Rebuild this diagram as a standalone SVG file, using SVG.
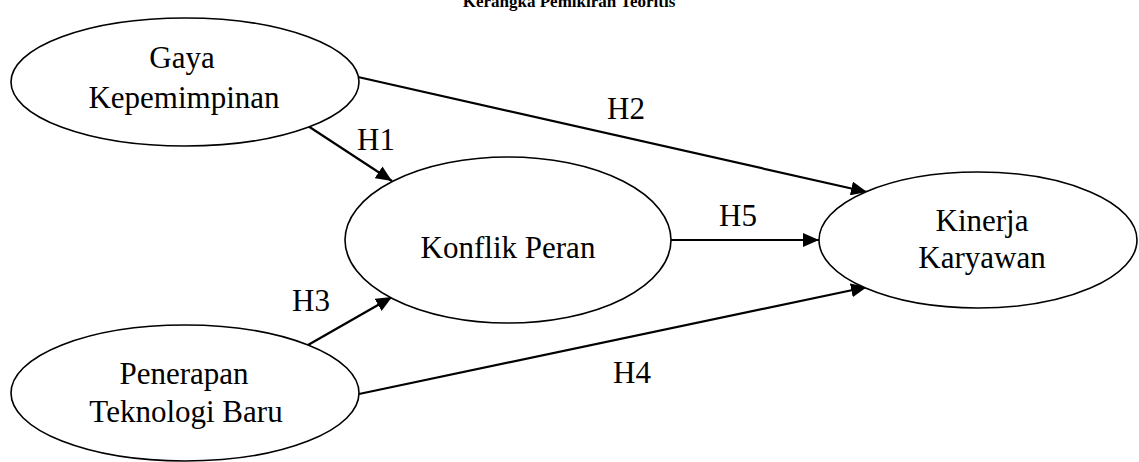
<svg xmlns="http://www.w3.org/2000/svg" width="1139" height="462" viewBox="0 0 1139 462">
<style>
.node{fill:#fff;stroke:#000;stroke-width:1.6}
.t{font-family:"Liberation Serif","Times New Roman",serif;font-size:31px;fill:#000;text-anchor:middle}
.lbl{font-family:"Liberation Serif","Times New Roman",serif;font-size:31px;fill:#000}
.title{font-family:"Liberation Serif","Times New Roman",serif;font-size:17px;font-weight:bold;fill:#000;text-anchor:middle}
.c{stroke:#000;stroke-width:2.2;fill:none;marker-end:url(#ah)}
</style>
<defs>
<marker id="ah" markerUnits="userSpaceOnUse" markerWidth="16" markerHeight="14" refX="16" refY="7" orient="auto">
<path d="M0,0 L16,7 L0,14 z" fill="#000"/>
</marker>
</defs>
<rect width="1139" height="462" fill="#fff"/>
<text class="title" x="569" y="7">Kerangka Pemikiran Teoritis</text>
<g id="connectors">
<line class="c" x1="308" y1="126" x2="392" y2="181"/>
<line class="c" x1="358" y1="77" x2="867" y2="192"/>
<line class="c" x1="671" y1="240" x2="819" y2="240"/>
<line class="c" x1="308" y1="345" x2="392" y2="297"/>
<line class="c" x1="359" y1="394" x2="867" y2="287"/>
<text class="lbl" x="357" y="150">H1</text>
<text class="lbl" x="607" y="119">H2</text>
<text class="lbl" x="292" y="311">H3</text>
<text class="lbl" x="613" y="383">H4</text>
<text class="lbl" x="719" y="226">H5</text>
</g>
<g id="gaya">
<ellipse class="node" cx="185" cy="82" rx="174" ry="64"/>
<text class="t" x="182" y="68">Gaya</text>
<text class="t" x="184" y="108">Kepemimpinan</text>
</g>
<g id="konflik">
<ellipse class="node" cx="508" cy="240" rx="163" ry="83"/>
<text class="t" x="508" y="258">Konflik Peran</text>
</g>
<g id="penerapan">
<ellipse class="node" cx="185" cy="393" rx="174" ry="68"/>
<text class="t" x="184" y="384">Penerapan</text>
<text class="t" x="186" y="422">Teknologi Baru</text>
</g>
<g id="kinerja">
<ellipse class="node" cx="978" cy="240" rx="159" ry="68"/>
<text class="t" x="982" y="231">Kinerja</text>
<text class="t" x="982" y="268">Karyawan</text>
</g>
</svg>
